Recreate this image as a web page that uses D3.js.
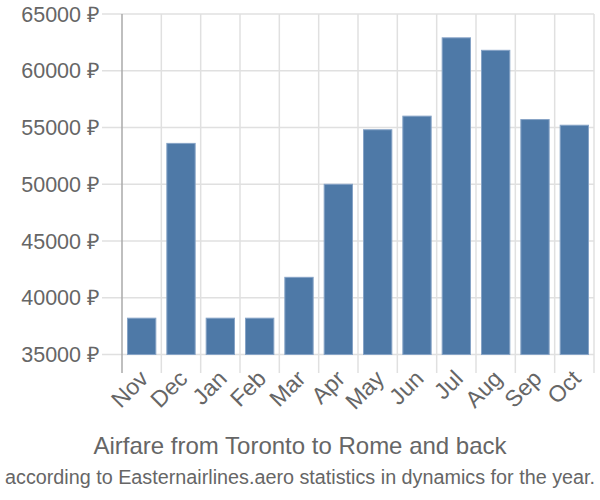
<!DOCTYPE html>
<html>
<head>
<meta charset="utf-8">
<script src="https://cdn.jsdelivr.net/npm/d3@7"></script>
<style>
  body { margin: 0; background: #fff; }
  svg { display: block; font-family: "Liberation Sans", Arial, sans-serif; }
</style>
</head>
<body>
<svg id="chart" width="600" height="500"></svg>
<script>
const months = ["Nov","Dec","Jan","Feb","Mar","Apr","May","Jun","Jul","Aug","Sep","Oct"];
const prices = [38200, 53600, 38200, 38200, 41800, 50000, 54800, 56000, 62900, 61800, 55700, 55200];
const yTicks = [35000, 40000, 45000, 50000, 55000, 60000, 65000];
const title = "Airfare from Toronto to Rome and back";
const subtitle = "according to Easternairlines.aero statistics in dynamics for the year.";

(function () {
const svg = d3.select("#chart");
const pLeft = 122, pRight = 594, pTop = 14, pBottom = 354.5;

const x = d3.scaleBand().domain(months).range([pLeft, pRight]).paddingInner(0.28).paddingOuter(0.14);
const xGrid = d3.scaleBand().domain(months).range([pLeft, pRight]);
const y = d3.scaleLinear().domain([35000, 65000]).range([pBottom, pTop]);

// horizontal gridlines + ticks
svg.append("g").selectAll("line").data(yTicks).join("line")
  .attr("x1", 102).attr("x2", pRight)
  .attr("y1", d => y(d)).attr("y2", d => y(d))
  .attr("stroke", "#e0e0e0").attr("stroke-width", 1.5);

// vertical gridlines (band boundaries)
const bounds = months.map(m => xGrid(m)).slice(1).concat([pRight]);
svg.append("g").selectAll("line").data(bounds).join("line")
  .attr("x1", d => d).attr("x2", d => d)
  .attr("y1", pTop).attr("y2", 373)
  .attr("stroke", "#e0e0e0").attr("stroke-width", 1.5);

// y axis line
svg.append("line").attr("x1", pLeft).attr("x2", pLeft).attr("y1", pTop).attr("y2", 373)
  .attr("stroke", "#aaaaaa").attr("stroke-width", 1.5);

// y tick labels
svg.append("g").selectAll("text").data(yTicks).join("text")
  .attr("x", 100).attr("y", d => y(d)).attr("dy", "0.35em")
  .attr("text-anchor", "end").attr("fill", "#666").attr("font-size", 21.5)
  .text(d => d + " ₽");

// bars
svg.append("g").selectAll("rect").data(prices).join("rect")
  .attr("x", (d, i) => x(months[i]))
  .attr("width", x.bandwidth())
  .attr("y", d => y(d))
  .attr("height", d => y(35000) - y(d))
  .attr("fill", "#4e79a7").attr("stroke", "#86a3c6").attr("stroke-width", 1);

// x labels
svg.append("g").selectAll("text").data(months).join("text")
  .attr("transform", d => `translate(${xGrid(d) + xGrid.bandwidth()/2 + 8},${380}) rotate(-45)`)
  .attr("text-anchor", "end").attr("fill", "#666").attr("font-size", 23)
  .text(d => d);

svg.append("text").attr("x", 300).attr("y", 454).attr("text-anchor", "middle")
  .attr("fill", "#666").attr("font-size", 24).text(title);
svg.append("text").attr("x", 300).attr("y", 484).attr("text-anchor", "middle")
  .attr("fill", "#666").attr("font-size", 19.5)
  .attr("textLength", 590).attr("lengthAdjust", "spacingAndGlyphs")
  .text(subtitle);
})();
</script>
</body>
</html>
